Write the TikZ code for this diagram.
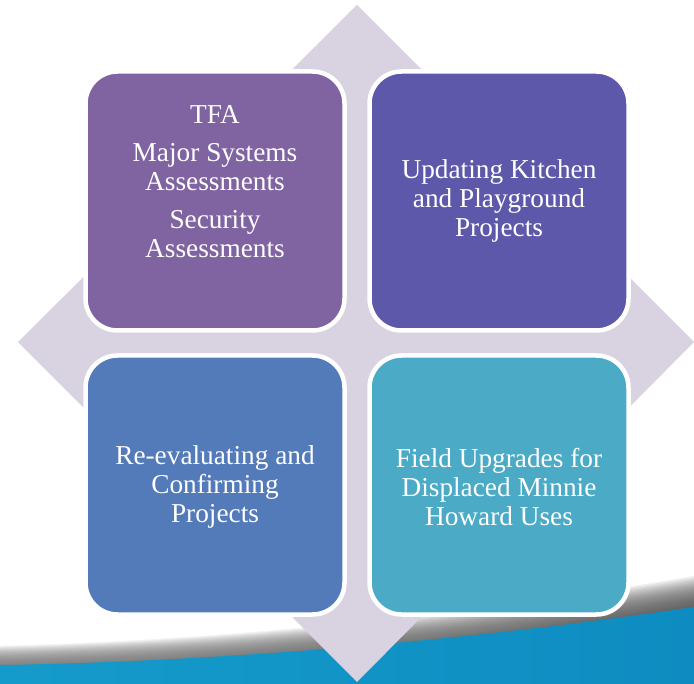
\documentclass[tikz,border=0pt]{standalone}
\usepackage{fontspec}
\setmainfont{Liberation Serif}
\usetikzlibrary{positioning}
\definecolor{diam}{HTML}{D8D2E1}
\definecolor{cTL}{HTML}{8064A2}
\definecolor{cTR}{HTML}{5E58AA}
\definecolor{cBL}{HTML}{537AB9}
\definecolor{cBR}{HTML}{4BAAC6}
\definecolor{bandL}{HTML}{159BCB}
\definecolor{bandR}{HTML}{0E8CC1}
\definecolor{shade}{HTML}{9A909C}
\tikzset{
  tile/.style={draw=white, line width=4.5pt, rounded corners=32pt,
    minimum width=259pt, minimum height=259pt, inner sep=0pt},
  lbl/.style={text=white, align=center, font=\fontsize{27.3}{29}\selectfont, inner sep=0pt}
}
\begin{document}
\begin{tikzpicture}[x=1pt,y=-1pt]
\useasboundingbox (0,0) rectangle (694,684);
% shadow above band (stacked translucent fills)
\foreach \i in {1,...,24}{
  \fill[shade, opacity=0.035]
    (0,665-0.8*\i) .. controls (250,661-0.9*\i) and (500,636-1.1*\i) .. (694,607-1.3*\i)
    -- (694,684) -- (0,684) -- cycle;
}
% bottom band
\path[left color=bandL, right color=bandR]
  (0,665) .. controls (250,661) and (500,636) .. (694,607) -- (694,684) -- (0,684) -- cycle;
% diamond
\fill[diam] (357,5) coordinate (dT) -- (694,342) coordinate (dR) -- (357,682) coordinate (dB) -- (18,342) coordinate (dL) -- cycle;
% tiles
\node[tile, fill=cTL] (tl) at (215,201) {};
\node[tile, fill=cTR] (tr) at (499,201) {};
\node[tile, fill=cBL] (bl) at (215,485) {};
\node[tile, fill=cBR] (br) at (499,485) {};
% labels
\node[lbl] (tlt) at (215,182) {TFA\\[9pt]Major Systems\\Assessments\\[9pt]Security\\Assessments};
\node[lbl] (trt) at (499,201) {Updating Kitchen\\and Playground\\Projects};
\node[lbl] (blt) at (215,487) {Re-evaluating and\\Confirming\\Projects};
\node[lbl] (brt) at (499,487) {Field Upgrades for\\Displaced Minnie\\Howard Uses};
\end{tikzpicture}
\end{document}
